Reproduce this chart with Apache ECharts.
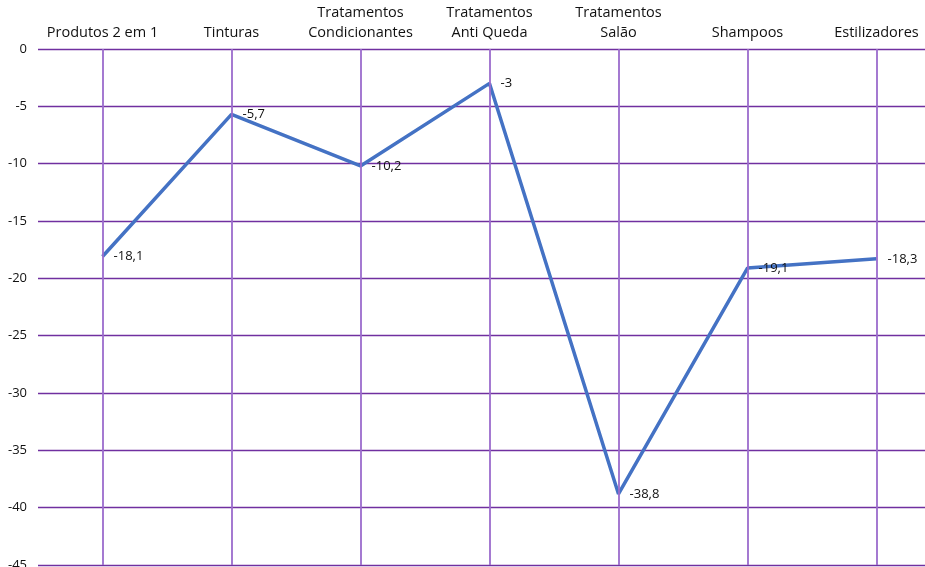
<!DOCTYPE html>
<html>
<head>
<meta charset="utf-8">
<script src="https://cdn.jsdelivr.net/npm/echarts@6/dist/echarts.min.js"></script>
<style>
  html, body { margin: 0; padding: 0; background: #fff; }
  #chart { width: 925px; height: 567px; }
</style>
</head>
<body>
<div id="chart"></div>
<script>
var categories = ['Produtos 2 em 1', 'Tinturas', 'Tratamentos\nCondicionantes', 'Tratamentos\nAnti Queda', 'Tratamentos\nSalão', 'Shampoos', 'Estilizadores'];
var values = [-18.1, -5.7, -10.2, -3, -38.8, -19.1, -18.3];
var yTicks = [0, -5, -10, -15, -20, -25, -30, -35, -40, -45];

var chart = echarts.init(document.getElementById('chart'));
var font = '"Open Sans", "Noto Sans", sans-serif';

var option = {
	backgroundColor: '#ffffff',
	animation: false,
	grid: {
		left: 38,
		right: -16,
		top: 49,
		bottom: 2,
		outerBoundsMode: 'none'
	},
	xAxis: {
		type: 'category',
		position: 'top',
		data: categories,
		axisLine: { show: false },
		axisTick: { show: false },
		splitLine: { show: false },
		axisLabel: {
			interval: 0,
			margin: 6,
			color: '#111111',
			fontFamily: font,
			fontSize: 14.5,
			lineHeight: 20
		}
	},
	yAxis: {
		type: 'value',
		min: yTicks[yTicks.length - 1],
		max: yTicks[0],
		interval: 5,
		axisLine: { show: false },
		axisTick: { show: false },
		axisLabel: {
			margin: 11,
			color: '#111111',
			fontFamily: font,
			fontSize: 13
		},
		splitLine: {
			lineStyle: { color: '#7030A0', width: 1.3 }
		}
	},
	series: [{
		type: 'line',
		data: values,
		showSymbol: true,
		symbol: 'circle',
		symbolSize: 0.1,
		itemStyle: { color: '#4472C4' },
		lineStyle: { color: '#4472C4', width: 3.5 },
		label: {
			show: true,
			position: 'right',
			distance: 11,
			color: '#111111',
			fontFamily: font,
			fontSize: 13,
			formatter: function (p) { return String(p.value).replace('.', ','); }
		},
		markLine: {
			silent: true,
			symbol: 'none',
			label: { show: false },
			lineStyle: { color: '#9B6BCC', width: 1.8, type: 'solid' },
			data: categories.map(function (c) { return { xAxis: c }; })
		},
		z: 3
	}]
};
chart.setOption(option);
</script>
</body>
</html>
